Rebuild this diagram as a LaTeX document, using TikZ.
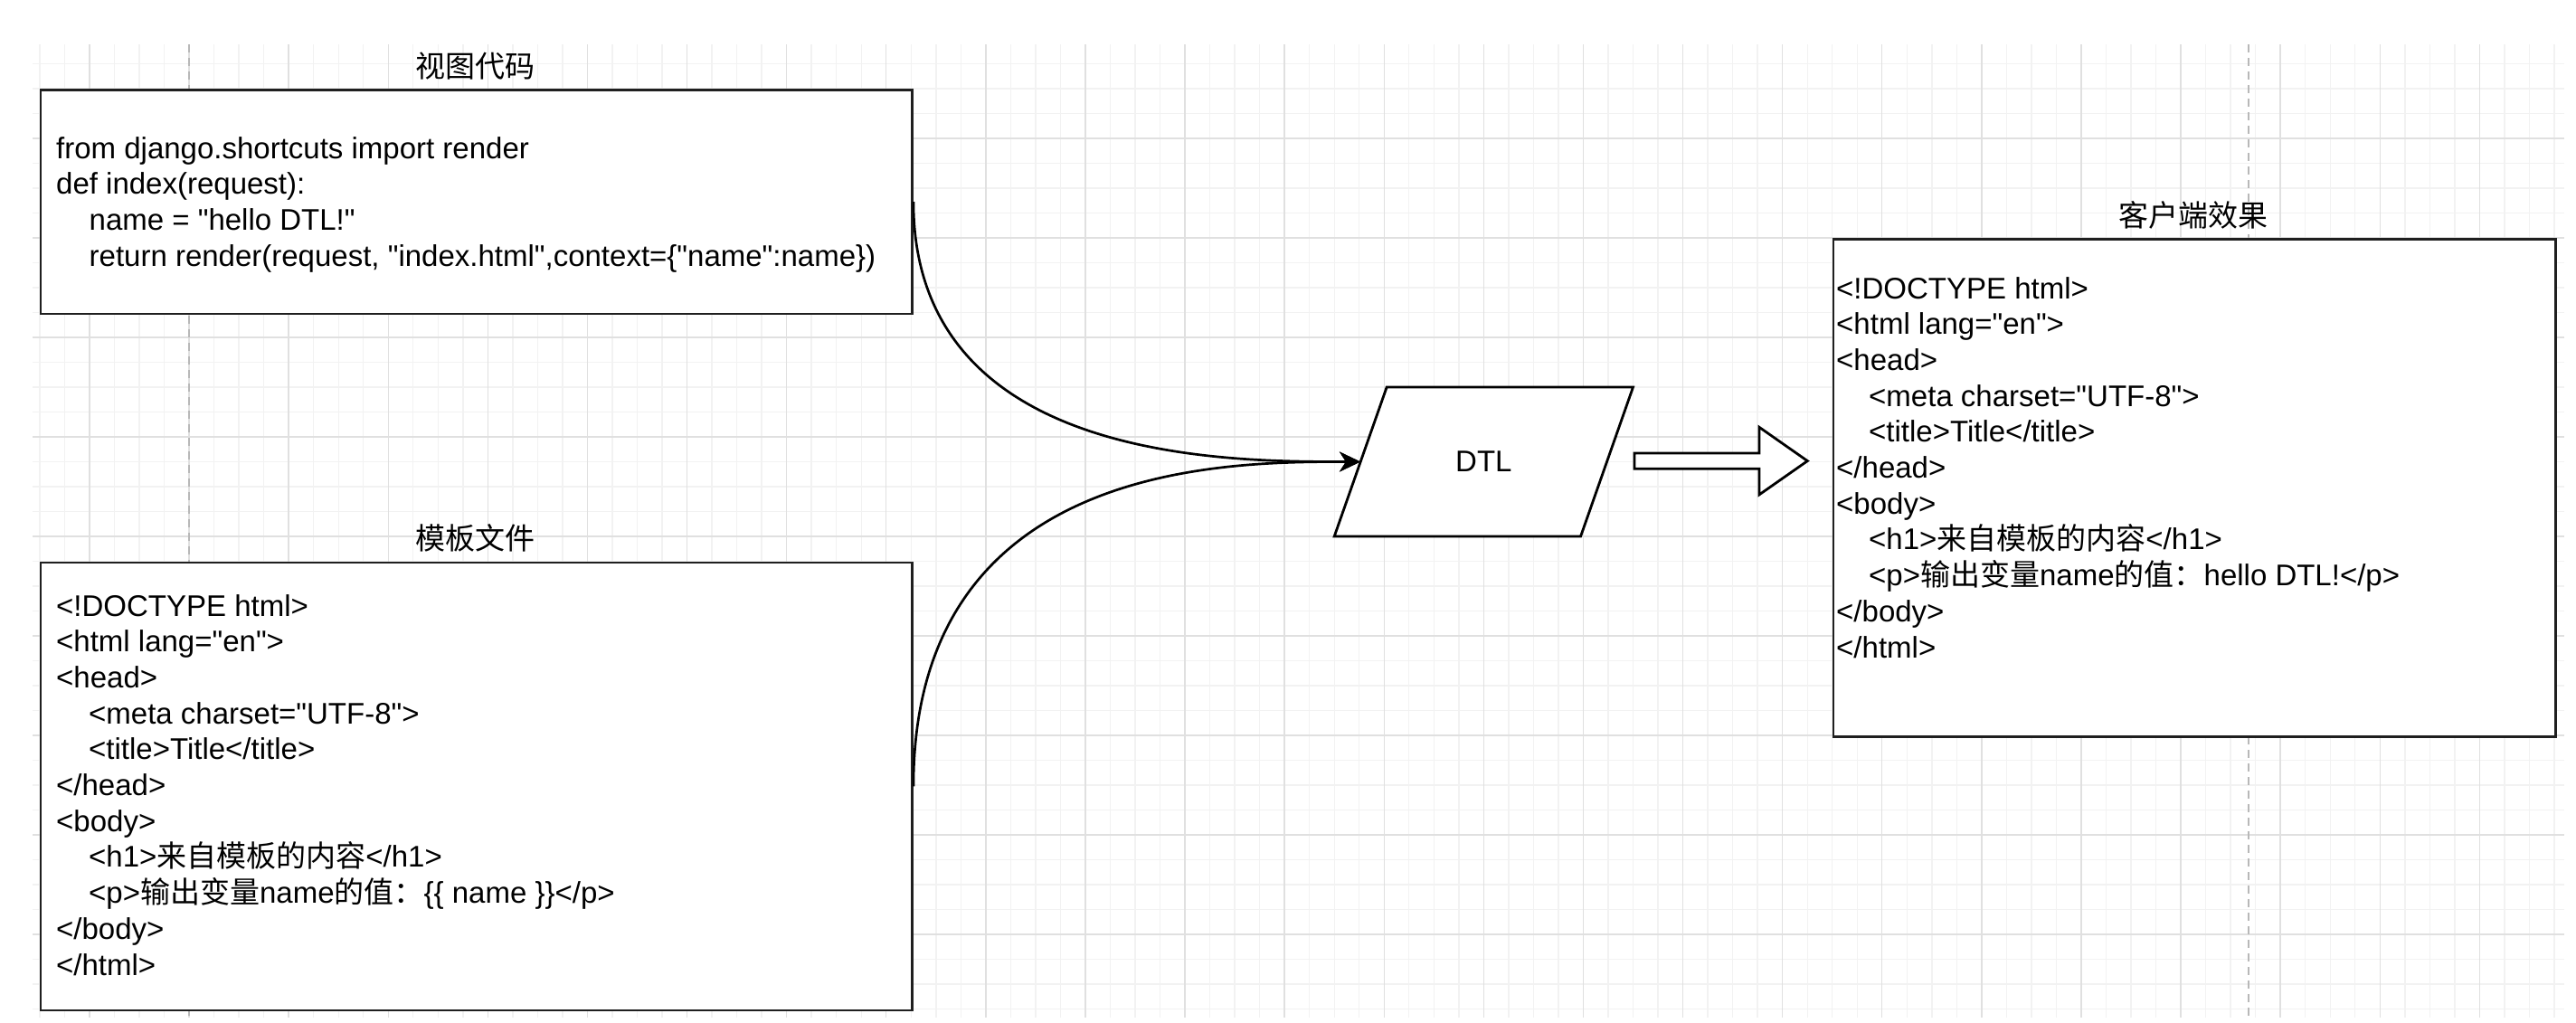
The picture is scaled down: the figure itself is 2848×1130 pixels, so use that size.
\documentclass[tikz,border=0pt]{standalone}
\usepackage{fontspec}
\newfontfamily\lib{Liberation Sans}
\newfontfamily\cjk{Noto Sans CJK SC}
\usetikzlibrary{arrows.meta,calc}
\begin{document}
\begin{tikzpicture}[x=1pt,y=-1pt,
  txt/.style={inner sep=0pt, anchor=base west, font=\fontsize{33}{39.7}\selectfont\lib},
  ttl/.style={inner sep=0pt, font=\fontsize{33}{39.7}\selectfont\cjk},
  box/.style={draw=black!88, line width=2.7pt, fill=white, inner sep=0pt, anchor=north west},
  gridminor/.style={draw=black!5, line width=1.4pt},
  gridmajor/.style={draw=black!12, line width=1.4pt},
  pagebreak/.style={draw=black!28, line width=2pt, dash pattern=on 9pt off 6pt},
  flow/.style={draw=black, line width=2.7pt, -{Stealth[length=23pt,width=22pt,inset=7pt]}},
  hollow/.style={draw=black, line width=2.8pt, fill=white, line join=miter},
]
\path[use as bounding box, fill=white] (0,0) rectangle (2848,1130);

% grid
\foreach \i in {0,...,38} \draw[gridminor] (36,70.5+27.5*\i) -- (2835,70.5+27.5*\i);
\foreach \i in {0,...,101} \draw[gridminor] (43.9+27.525*\i,49) -- (43.9+27.525*\i,1125);
\foreach \i in {0,...,8} \draw[gridmajor] (36,153+110*\i) -- (2835,153+110*\i);
\foreach \i in {0,...,24} \draw[gridmajor] (98.9+110.1*\i,49) -- (98.9+110.1*\i,1125);
\draw[pagebreak] (209,49) -- (209,1125);
\draw[pagebreak] (2485.7,49) -- (2485.7,1125);

% boxes
\node[box, minimum width=963.7pt, minimum height=247.5pt] (view) at (43.5,98) {};
\node[box, minimum width=963.7pt, minimum height=495pt] (tpl) at (43.5,620.5) {};
\node[box, minimum width=798.2pt, minimum height=550pt] (client) at (2025.7,263) {};

% titles
\node[ttl] (viewT) at (525.3,73) {视图代码};
\node[ttl] (tplT) at (525.3,594.5) {模板文件};
\node[ttl] (clientT) at (2424.8,237.5) {客户端效果};

% view code
\node[txt] (v1) at (62,175) {from django.shortcuts import render};
\node[txt] (v2) at (62,214.7) {def index(request):};
\node[txt] (v3) at (98.5,254.4) {name = "hello DTL!"};
\node[txt] (v4) at (98.5,294.1) {return render(request, "index.html",context=\{"name":name\})};

% template
\node[txt] (t1) at (62,681) {<!DOCTYPE html>};
\node[txt] (t2) at (62,720.7) {<html lang="en">};
\node[txt] (t3) at (62,760.4) {<head>};
\node[txt] (t4) at (98,800.1) {<meta charset="UTF-8">};
\node[txt] (t5) at (98,839.8) {<title>Title</title>};
\node[txt] (t6) at (62,879.5) {</head>};
\node[txt] (t7) at (62,919.2) {<body>};
\node[txt] (t8) at (98,958.9) {<h1>{\cjk 来自模板的内容}</h1>};
\node[txt] (t9) at (98,998.6) {<p>{\cjk 输出变量}name{\cjk 的值：}\{\{ name \}\}</p>};
\node[txt] (t10) at (62,1038.3) {</body>};
\node[txt] (t11) at (62,1078) {</html>};

% client
\node[txt] (c1) at (2030,330) {<!DOCTYPE html>};
\node[txt] (c2) at (2030,369.7) {<html lang="en">};
\node[txt] (c3) at (2030,409.4) {<head>};
\node[txt] (c4) at (2066,449.1) {<meta charset="UTF-8">};
\node[txt] (c5) at (2066,488.8) {<title>Title</title>};
\node[txt] (c6) at (2030,528.5) {</head>};
\node[txt] (c7) at (2030,568.2) {<body>};
\node[txt] (c8) at (2066,607.9) {<h1>{\cjk 来自模板的内容}</h1>};
\node[txt] (c9) at (2066,647.6) {<p>{\cjk 输出变量}name{\cjk 的值：}hello DTL!</p>};
\node[txt] (c10) at (2030,687.3) {</body>};
\node[txt] (c11) at (2030,727) {</html>};

% DTL parallelogram
\coordinate (dtlc) at (1640.35,510.5);
\draw[hollow] ($(dtlc)+(-107.2,-82.5)$) -- ($(dtlc)+(165.15,-82.5)$) -- ($(dtlc)+(107.2,82.5)$) -- ($(dtlc)+(-165.15,82.5)$) -- cycle;
\node[inner sep=0pt, minimum width=272.3pt, minimum height=165pt, font=\fontsize{33}{39.7}\selectfont\lib] (dtl) at (dtlc) {DTL};

% curved connectors
\draw[flow] (view.east) .. controls (view.east |- dtl.west) and ($(dtl.west)+(-150,0)$) .. (dtl.west);
\draw[flow] (tpl.east) .. controls (tpl.east |- dtl.west) and ($(dtl.west)+(-150,0)$) .. (dtl.west);

% hollow block arrow
\coordinate (hs) at ($(dtl.east)+(30.2,-0.9)$);
\coordinate (he) at ($(client.west |- hs)+(-27.4,0)$);
\draw[hollow] ($(hs)+(0,-8.6)$) -- ($(he)+(-53.3,-8.6)$) -- ($(he)+(-53.3,-37.3)$) -- (he) -- ($(he)+(-53.3,37.3)$) -- ($(he)+(-53.3,8.6)$) -- ($(hs)+(0,8.6)$) -- cycle;
\end{tikzpicture}
\end{document}
